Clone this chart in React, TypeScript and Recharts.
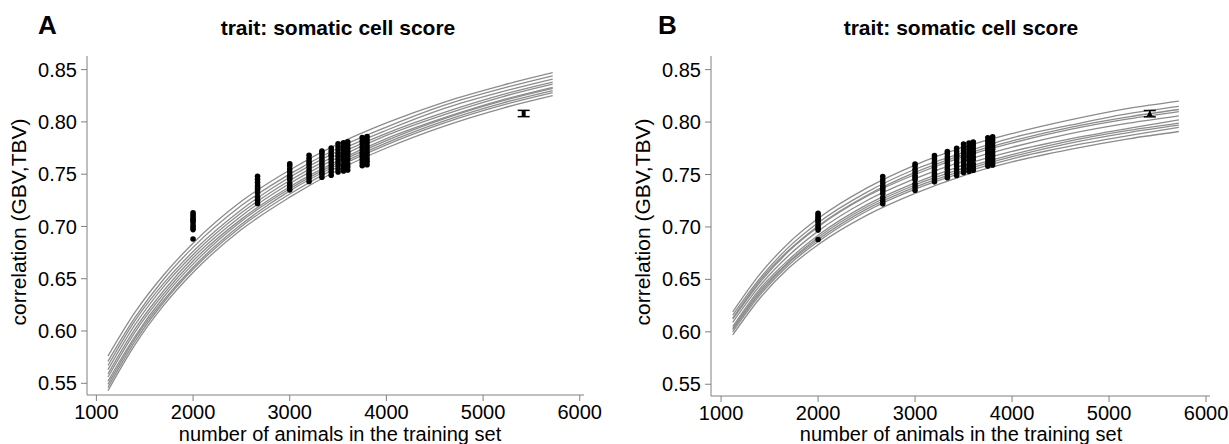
import React from "react";
import { ComposedChart, Line, Scatter, XAxis, YAxis, ErrorBar } from "recharts";

const FONT = "'Liberation Sans', Arial, sans-serif";

const TICKS_X = [1000, 2000, 3000, 4000, 5000, 6000];
const TICKS_Y = [0.55, 0.6, 0.65, 0.7, 0.75, 0.8, 0.85];

// training set sizes where the fitted curves were read
const CURVE_N = [1120, 1400, 1700, 2000, 2500, 3000, 3500, 4000, 4600, 5200, 5720];

const curvesA = [
  [0.576, 0.618, 0.654, 0.684, 0.724, 0.754, 0.779, 0.799, 0.819, 0.835, 0.847],
  [0.571, 0.613, 0.65, 0.68, 0.72, 0.75, 0.775, 0.795, 0.816, 0.832, 0.844],
  [0.567, 0.61, 0.646, 0.676, 0.716, 0.747, 0.772, 0.792, 0.813, 0.829, 0.841],
  [0.563, 0.606, 0.643, 0.673, 0.713, 0.744, 0.769, 0.789, 0.809, 0.826, 0.838],
  [0.559, 0.602, 0.639, 0.67, 0.71, 0.741, 0.766, 0.787, 0.807, 0.824, 0.836],
  [0.556, 0.599, 0.636, 0.667, 0.707, 0.738, 0.763, 0.784, 0.804, 0.821, 0.833],
  [0.552, 0.595, 0.633, 0.664, 0.705, 0.736, 0.761, 0.782, 0.803, 0.82, 0.832],
  [0.549, 0.593, 0.63, 0.661, 0.702, 0.734, 0.759, 0.78, 0.801, 0.818, 0.83],
  [0.546, 0.59, 0.628, 0.659, 0.7, 0.731, 0.757, 0.778, 0.799, 0.816, 0.828],
  [0.543, 0.587, 0.625, 0.656, 0.697, 0.728, 0.754, 0.775, 0.796, 0.813, 0.825],
];

const curvesB = [
  [0.619, 0.655, 0.685, 0.708, 0.737, 0.759, 0.776, 0.789, 0.802, 0.813, 0.82],
  [0.616, 0.651, 0.681, 0.704, 0.733, 0.755, 0.771, 0.785, 0.797, 0.808, 0.815],
  [0.613, 0.649, 0.678, 0.701, 0.73, 0.752, 0.769, 0.782, 0.795, 0.805, 0.812],
  [0.612, 0.647, 0.677, 0.7, 0.729, 0.75, 0.767, 0.78, 0.793, 0.803, 0.81],
  [0.609, 0.644, 0.673, 0.696, 0.725, 0.746, 0.763, 0.776, 0.789, 0.799, 0.806],
  [0.605, 0.641, 0.669, 0.692, 0.721, 0.742, 0.759, 0.772, 0.784, 0.794, 0.802],
  [0.603, 0.639, 0.667, 0.69, 0.719, 0.74, 0.756, 0.769, 0.782, 0.792, 0.799],
  [0.602, 0.637, 0.666, 0.688, 0.717, 0.738, 0.754, 0.767, 0.78, 0.79, 0.797],
  [0.6, 0.635, 0.664, 0.686, 0.715, 0.736, 0.752, 0.765, 0.777, 0.787, 0.795],
  [0.597, 0.632, 0.661, 0.683, 0.711, 0.732, 0.749, 0.762, 0.774, 0.784, 0.791],
];

// validation results (same in both panels)
const DOT_N = [2000, 2667, 3000, 3200, 3333, 3429, 3500, 3556, 3600, 3750, 3800];
const DOT_VALUES = [
  [0.713, 0.711, 0.709, 0.707, 0.706, 0.704, 0.701, 0.699, 0.697, 0.688],
  [0.748, 0.745, 0.742, 0.739, 0.737, 0.735, 0.732, 0.728, 0.725, 0.722],
  [0.76, 0.758, 0.755, 0.752, 0.749, 0.747, 0.745, 0.741, 0.738, 0.735],
  [0.768, 0.765, 0.762, 0.76, 0.757, 0.754, 0.751, 0.749, 0.746, 0.743],
  [0.772, 0.77, 0.767, 0.764, 0.761, 0.758, 0.755, 0.752, 0.75, 0.747],
  [0.775, 0.772, 0.769, 0.767, 0.764, 0.761, 0.758, 0.755, 0.752, 0.749],
  [0.779, 0.776, 0.773, 0.77, 0.767, 0.764, 0.761, 0.758, 0.755, 0.752],
  [0.78, 0.777, 0.774, 0.771, 0.768, 0.766, 0.763, 0.759, 0.756, 0.753],
  [0.781, 0.778, 0.775, 0.772, 0.77, 0.767, 0.764, 0.76, 0.757, 0.754],
  [0.785, 0.782, 0.779, 0.776, 0.773, 0.77, 0.767, 0.764, 0.761, 0.758],
  [0.786, 0.783, 0.78, 0.777, 0.774, 0.771, 0.768, 0.765, 0.762, 0.759],
];

const EXT_N = 5420;
const EXT_R = 0.808;
const EXT_ERR = 0.003;

const dots = DOT_N.flatMap((n, i) => DOT_VALUES[i].map((v) => ({ x: n, y: v })));

const toSeries = (vals: number[]) => CURVE_N.map((n, i) => ({ x: n, y: vals[i] }));

const Dot = (p: any) => <circle cx={p.cx} cy={p.cy} r={2.8} fill="#000" />;

const MarkA = (p: any) => <rect x={p.cx - 2} y={p.cy - 2.5} width={4} height={5} fill="#000" />;
const MarkB = (p: any) => (
  <polygon points={`${p.cx},${p.cy - 3.5} ${p.cx - 3},${p.cy + 2.5} ${p.cx + 3},${p.cy + 2.5}`} fill="#000" />
);

interface PanelProps {
  curves: number[][];
  xDomain: [number, number];
  yAxisWidth: number;
  margin: { top: number; right: number; bottom: number; left: number };
  topStroke: string;
  mark: (p: any) => React.ReactElement;
}

function Panel({ curves, xDomain, yAxisWidth, margin, topStroke, mark }: PanelProps) {
  const tick = { fill: "#000", fontSize: 20, fontFamily: FONT };
  return (
    <ComposedChart width={620} height={444} margin={margin}>
      <XAxis
        dataKey="x"
        type="number"
        domain={xDomain}
        ticks={TICKS_X}
        allowDataOverflow
        height={30}
        tickSize={6}
        tickMargin={4}
        tick={tick}
        stroke="#808080"
      />
      <XAxis xAxisId="top" orientation="top" type="number" domain={xDomain} allowDataOverflow height={0} tick={false} tickLine={false} stroke={topStroke} />
      <YAxis
        type="number"
        domain={[0.5388, 0.863]}
        ticks={TICKS_Y}
        allowDataOverflow
        width={yAxisWidth}
        tickSize={6}
        tickMargin={4}
        tick={tick}
        tickFormatter={(v: number) => v.toFixed(2)}
        stroke="#808080"
      />
      <YAxis yAxisId="right" orientation="right" type="number" domain={[0.5388, 0.863]} allowDataOverflow width={0} tick={false} tickLine={false} stroke="#c8c8c8" />
      {curves.map((c, i) => (
        <Line
          key={i}
          data={toSeries(c)}
          dataKey="y"
          type="monotone"
          stroke="#8c8c8c"
          strokeWidth={1.3}
          dot={false}
          activeDot={false}
          isAnimationActive={false}
        />
      ))}
      <Scatter data={dots} dataKey="y" shape={Dot} isAnimationActive={false} />
      <Scatter data={[{ x: EXT_N, y: EXT_R, err: EXT_ERR }]} dataKey="y" shape={mark} isAnimationActive={false}>
        <ErrorBar dataKey="err" direction="y" width={6} stroke="#000" strokeWidth={1.5} />
      </Scatter>
    </ComposedChart>
  );
}

export default function App() {
  const textStyle = { fontFamily: FONT, fill: "#000" };
  return (
    <div style={{ position: "absolute", left: 0, top: 0, width: 1229, height: 444, background: "#fff" }}>
      <div style={{ position: "absolute", left: 0, top: 0 }}>
        <Panel
          curves={curvesA}
          xDomain={[903, 6044]}
          yAxisWidth={87}
          margin={{ top: 56, right: 36, bottom: 19, left: 0 }}
          topStroke="#bdbdbd"
          mark={MarkA}
        />
      </div>
      <div style={{ position: "absolute", left: 620, top: 0 }}>
        <Panel
          curves={curvesB}
          xDomain={[896, 6041]}
          yAxisWidth={91}
          margin={{ top: 56, right: 30, bottom: 18, left: 0 }}
          topStroke="#7a7a7a"
          mark={MarkB}
        />
      </div>
      <svg width={1229} height={444} style={{ position: "absolute", left: 0, top: 0, pointerEvents: "none" }}>
        <text x={38} y={34} fontSize={26} fontWeight="bold" style={textStyle}>A</text>
        <text x={658} y={34} fontSize={26} fontWeight="bold" style={textStyle}>B</text>
        <text x={338} y={35} fontSize={21} fontWeight="bold" textAnchor="middle" style={textStyle}>trait: somatic cell score</text>
        <text x={961} y={35} fontSize={21} fontWeight="bold" textAnchor="middle" style={textStyle}>trait: somatic cell score</text>
        <text x={340} y={441} fontSize={20} textAnchor="middle" style={textStyle}>number of animals in the training set</text>
        <text x={961} y={441} fontSize={20} textAnchor="middle" style={textStyle}>number of animals in the training set</text>
        <text x={26} y={222} fontSize={21} textAnchor="middle" transform="rotate(-90 26 222)" style={textStyle}>correlation (GBV,TBV)</text>
        <text x={650} y={222} fontSize={21} textAnchor="middle" transform="rotate(-90 650 222)" style={textStyle}>correlation (GBV,TBV)</text>
      </svg>
    </div>
  );
}
